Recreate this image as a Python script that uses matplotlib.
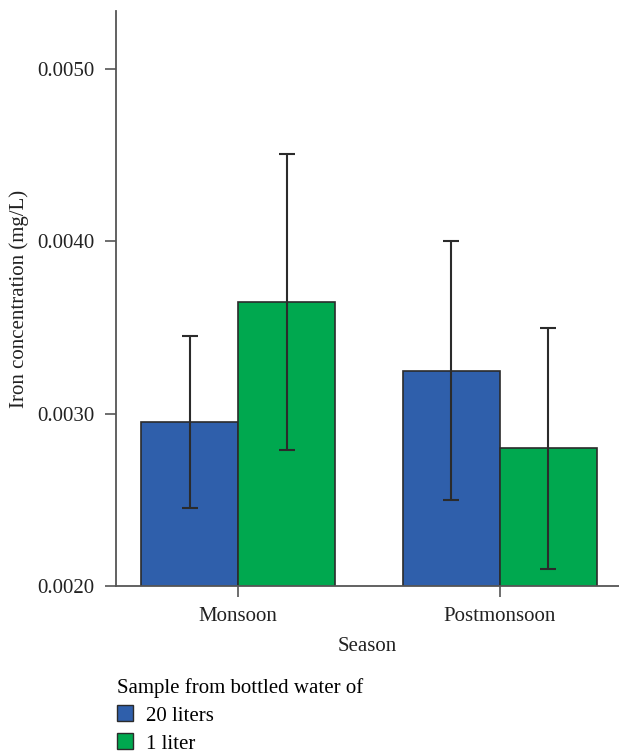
import numpy as np
import matplotlib.pyplot as plt
from matplotlib import rcParams
from matplotlib.patches import Patch

rcParams['font.family'] = ['Liberation Serif', 'DejaVu Serif']
rcParams['font.size'] = 15

seasons = ['Monsoon', 'Postmonsoon']
labels = ['20 liters', '1 liter']
mean_20l = [0.00295, 0.00325]
err_20l = [0.0005, 0.00075]
mean_1l = [0.00365, 0.0028]
err_1l = [0.00086, 0.0007]
colors = ['#2f5fab', '#00a84f']
edge = '#2b2b2b'
spine = '#555555'

fig = plt.figure(figsize=(6.19, 7.55), dpi=100)
ax = fig.add_axes([0.1869, 0.2238, 0.8131, 0.7616])

x = np.arange(len(seasons))
w = 0.37
ebar = dict(ecolor=edge, elinewidth=1.5, capsize=5.5, capthick=1.5)
ax.bar(x - w / 2, mean_20l, w, yerr=err_20l, color=colors[0], edgecolor=edge,
       linewidth=1.2, error_kw=ebar, zorder=2)
ax.bar(x + w / 2, mean_1l, w, yerr=err_1l, color=colors[1], edgecolor=edge,
       linewidth=1.2, error_kw=ebar, zorder=2)

ax.set_xlim(-0.468, 1.455)
ax.set_ylim(0.0020, 0.005337)
ax.set_yticks([0.0020, 0.0030, 0.0040, 0.0050])
ax.set_yticklabels(['%.4f' % v for v in [0.0020, 0.0030, 0.0040, 0.0050]])
ax.set_xticks(x)
ax.set_xticklabels(seasons)

for s in ['top', 'right']:
    ax.spines[s].set_visible(False)
for s in ['left', 'bottom']:
    ax.spines[s].set_color(spine)
    ax.spines[s].set_linewidth(1.3)
ax.tick_params(axis='both', direction='out', length=8, width=1.2,
               color=spine, colors='#222222', pad=7)

ax.set_xlabel('Season', color='#222222', labelpad=8)
ax.set_ylabel('Iron concentration (mg/L)', color='#222222', labelpad=6)

handles = [Patch(facecolor=c, edgecolor=edge, linewidth=1.0) for c in colors]
leg = fig.legend(handles, labels, title='Sample from bottled water of',
                 loc='upper left', bbox_to_anchor=(0.1825, 0.108),
                 frameon=False, fontsize=15, title_fontsize=15,
                 handlelength=0.78, handleheight=0.78, handletextpad=0.6,
                 labelspacing=0.38, borderpad=0.2, borderaxespad=0.0)
leg._legend_box.align = 'left'

fig.savefig('out.png', dpi=100)
